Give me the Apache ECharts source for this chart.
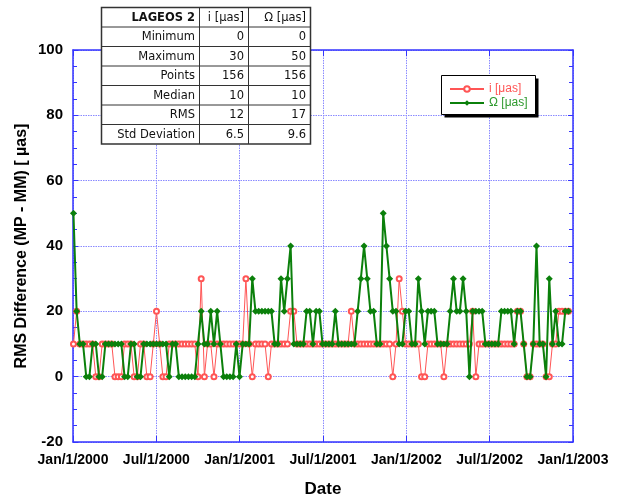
<!DOCTYPE html>
<html><head><meta charset="utf-8">
<script src="https://cdn.jsdelivr.net/npm/echarts@6/dist/echarts.min.js"></script>
<style>html,body{margin:0;padding:0;background:#fff}#c{width:621px;height:503px}</style>
</head><body><div id="c"></div>
<script>
// ---- data ----
const startDate = [2000, 0, 2];   // first weekly solution (UTC y, m, d)
const stepDays = 7;
const iValues = [
  10,20,10,10,10,10,10,0,0,10,10,10,10,0,0,0,10,10,10,0,0,10,10,0,0,10,20,10,0,0,10,
  10,10,10,10,10,10,10,10,0,30,0,10,10,0,10,10,10,10,10,10,10,10,10,30,10,0,10,10,10,10,0,
  10,10,10,10,10,10,20,20,10,10,10,10,10,10,10,10,10,10,10,10,10,10,10,10,10,20,10,10,10,10,10,
  10,10,10,10,10,10,10,0,10,30,20,10,10,10,10,10,0,0,10,10,10,10,10,0,10,10,10,10,10,10,10,10,
  20,0,10,10,10,10,10,10,10,10,10,10,10,10,20,20,10,0,0,10,10,10,10,0,0,10,10,20,20,20,20
];
const omegaValues = [
  50,20,10,10,0,0,10,10,0,0,10,10,10,10,10,10,0,0,10,10,0,0,10,10,10,10,10,10,10,10,0,
  10,10,0,0,0,0,0,0,10,20,10,10,20,10,20,10,0,0,0,0,10,0,10,10,10,30,20,20,20,20,20,
  20,10,10,30,20,30,40,10,10,10,10,20,20,10,20,20,10,10,10,10,20,10,10,10,10,10,10,20,30,40,30,
  20,20,10,10,50,40,30,20,20,10,10,20,20,10,10,30,20,10,20,20,20,10,10,10,10,20,30,20,20,30,20,0,
  20,20,20,20,10,10,10,10,10,20,20,20,20,10,20,20,10,0,0,10,40,10,10,0,30,10,20,10,10,20,20
];
const xTickLabels = ['Jan/1/2000','Jul/1/2000','Jan/1/2001','Jul/1/2001','Jan/1/2002','Jul/1/2002','Jan/1/2003'];
const seriesNames = ['i [\u03bcas]', '\u03a9 [\u03bcas]'];
const tableHeader = ['LAGEOS 2', 'i [\u03bcas]', '\u03a9 [\u03bcas]'];
const tableRows = [
  ['Minimum', '0', '0'],
  ['Maximum', '30', '50'],
  ['Points', '156', '156'],
  ['Median', '10', '10'],
  ['RMS', '12', '17'],
  ['Std Deviation', '6.5', '9.6']
];

// ---- build ----
const DAY = 86400000;
const epoch = Date.UTC(2000, 0, 1);
const spanDays = (Date.UTC(2003, 0, 1) - epoch) / DAY; // 1096
const tickStep = spanDays / 6;
const t0 = Date.UTC(startDate[0], startDate[1], startDate[2]);
const dayOf = k => (t0 - epoch) / DAY + k * stepDays;
const iData = iValues.map((v, k) => [dayOf(k), v]);
const oData = omegaValues.map((v, k) => [dayOf(k), v]);

const AX = '#3535ff';
const GRID = '#8a8aff';
const RED = '#ff5555';
const GREEN = '#0b800b';
const FONT = 'Liberation Sans, Arial, sans-serif';

// table graphic
const tbl = { left: 101.5, top: 7.5, colX: [101.5, 199.5, 248.5, 310.5], rowH: 19.5 };
const els = [];
const nRows = tableRows.length + 1;
els.push({ type: 'rect', z: 100, shape: { x: tbl.left, y: tbl.top, width: tbl.colX[3] - tbl.left, height: nRows * tbl.rowH },
  style: { fill: '#fff', stroke: '#333', lineWidth: 1.5 } });
for (let r = 1; r < nRows; r++) {
  const y = tbl.top + r * tbl.rowH;
  els.push({ type: 'line', z: 101, shape: { x1: tbl.left, y1: y, x2: tbl.colX[3], y2: y }, style: { stroke: '#333', lineWidth: 1 } });
}
for (let c = 1; c < 3; c++) {
  els.push({ type: 'line', z: 101, shape: { x1: tbl.colX[c], y1: tbl.top, x2: tbl.colX[c], y2: tbl.top + nRows * tbl.rowH }, style: { stroke: '#333', lineWidth: 1 } });
}
[tableHeader].concat(tableRows).forEach((row, r) => {
  row.forEach((txt, c) => {
    els.push({ type: 'text', z: 102,
      style: { text: txt, x: tbl.colX[c + 1] - 4.5, y: tbl.top + r * tbl.rowH + tbl.rowH / 2 + 0.5,
        align: 'right', verticalAlign: 'middle', fill: '#111',
        font: (r === 0 && c === 0 ? 'bold ' : '') + '11.5px "DejaVu Sans", sans-serif' } });
  });
});
// legend box with drop shadow
const lg = { x: 441.5, y: 75.5, w: 94, h: 39 };
els.push({ type: 'rect', z: 5, shape: { x: lg.x + 3, y: lg.y + 3, width: lg.w, height: lg.h }, style: { fill: '#000' } });
els.push({ type: 'rect', z: 6, shape: { x: lg.x, y: lg.y, width: lg.w, height: lg.h }, style: { fill: '#fff', stroke: '#000', lineWidth: 1 } });

const chart = echarts.init(document.getElementById('c'), null, { renderer: 'canvas' });
chart.setOption({
  animation: false,
  backgroundColor: '#fff',
  grid: { left: 73, right: 48, top: 50, bottom: 59, containLabel: false },
  legend: {
    z: 20,
    orient: 'vertical', left: 442, top: 76,
    padding: [7, 6, 6, 7], itemGap: 2, itemWidth: 34, itemHeight: 7,
    textStyle: { fontSize: 12, fontFamily: FONT },
    data: [
      { name: seriesNames[0], textStyle: { color: RED } },
      { name: seriesNames[1], textStyle: { color: '#2f9a2f' } }
    ]
  },
  xAxis: [
    {
      type: 'value', position: 'bottom', min: 0, max: spanDays, interval: tickStep,
      name: 'Date', nameLocation: 'middle', nameGap: 39, nameMoveOverlap: false,
      nameTextStyle: { fontSize: 17, fontWeight: 'bold', color: '#000', fontFamily: FONT },
      axisLine: { onZero: false, lineStyle: { color: AX, width: 1.5 } },
      axisTick: { inside: true, length: 6, lineStyle: { color: AX } },
      axisLabel: { margin: 11, fontSize: 14, fontWeight: 'bold', color: '#000', fontFamily: FONT,
        showMinLabel: true, showMaxLabel: true,
        formatter: v => xTickLabels[Math.round(v / tickStep)] || '' },
      splitLine: { show: true, lineStyle: { color: GRID, type: [1.5, 1], width: 1 } }
    },
    {
      type: 'value', position: 'top', min: 0, max: spanDays, interval: tickStep,
      axisLine: { onZero: false, lineStyle: { color: AX, width: 1.5 } },
      axisTick: { inside: true, length: 6, lineStyle: { color: AX } },
      axisLabel: { show: false }, splitLine: { show: false }
    }
  ],
  yAxis: [
    {
      type: 'value', position: 'left', min: -20, max: 100, interval: 20,
      name: 'RMS Difference (MP - MM) [ \u00b5as]', nameLocation: 'middle', nameGap: 43, nameMoveOverlap: false,
      nameTextStyle: { fontSize: 16, fontWeight: 'bold', color: '#000', fontFamily: FONT },
      axisLine: { onZero: false, lineStyle: { color: AX, width: 1.5 } },
      axisTick: { inside: true, length: 5, lineStyle: { color: AX } },
      minorTick: { show: true, splitNumber: 4, length: 4, lineStyle: { color: AX } },
      axisLabel: { margin: 10, fontSize: 15, fontWeight: 'bold', color: '#000', fontFamily: FONT },
      splitLine: { show: true, lineStyle: { color: GRID, type: [1.5, 1], width: 1 } }
    },
    {
      type: 'value', position: 'right', min: -20, max: 100, interval: 20,
      axisLine: { onZero: false, lineStyle: { color: AX, width: 1.5 } },
      axisTick: { inside: true, length: 5, lineStyle: { color: AX } },
      minorTick: { show: true, splitNumber: 4, length: 4, lineStyle: { color: AX } },
      axisLabel: { show: false }, splitLine: { show: false }
    }
  ],
  series: [
    {
      name: seriesNames[0], type: 'line', data: iData, z: 3,
      symbol: 'emptyCircle', symbolSize: 5,
      lineStyle: { color: RED, width: 1 },
      itemStyle: { color: RED, borderColor: RED, borderWidth: 1 }
    },
    {
      name: seriesNames[1], type: 'line', data: oData, z: 4,
      symbol: 'diamond', symbolSize: 7,
      lineStyle: { color: GREEN, width: 2 },
      itemStyle: { color: GREEN }
    }
  ],
  graphic: { elements: els }
});
</script></body></html>
